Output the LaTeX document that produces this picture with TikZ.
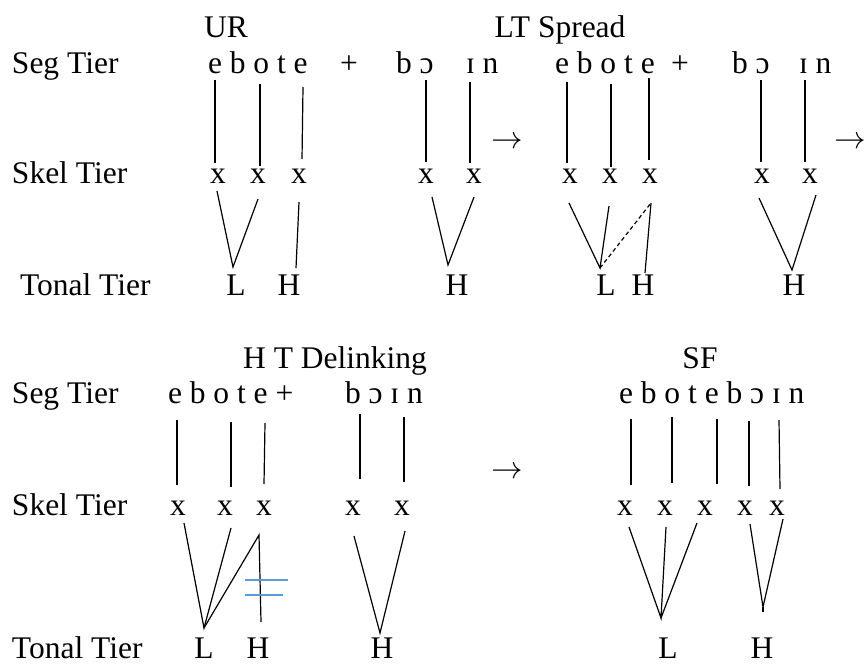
\RequirePackage{fix-cm}
\documentclass[tikz,border=0pt]{standalone}
\usepackage{fontspec}
\setmainfont{Liberation Serif}
\newfontfamily\tms{Liberation Serif}
\definecolor{delinkblue}{HTML}{5B9BD5}
\begin{document}
\begin{tikzpicture}[x=1pt,y=-1pt,
  every node/.style={inner sep=0pt, outer sep=0pt, font=\tms\fontsize{31.5}{38}\selectfont},
  lbl/.style={anchor=base west},
  ch/.style={anchor=base},
  link/.style={line width=1.2pt, black},
  spread/.style={link, dash pattern=on 4pt off 3pt},
  cut/.style={line width=1.3pt, delinkblue}]
\useasboundingbox (0,0) rectangle (867,664);

% ---------- tier labels ----------
\node[lbl] (seg1)  at (12,73)  {Seg Tier};
\node[lbl] (skel1) at (12,183) {Skel Tier};
\node[lbl] (ton1)  at (20,295) {Tonal Tier};
\node[lbl] (seg2)  at (12,403) {Seg Tier};
\node[lbl] (skel2) at (12,515) {Skel Tier};
\node[lbl] (ton2)  at (12,658) {Tonal Tier};

% ---------- stage titles ----------
\node[ch] (ur)  at (226,37)  {UR};
\node[ch] (lts) at (560,37)  {LT Spread};
\node[ch] (htd) at (335,368) {H T Delinking};
\node[ch] (sf)  at (700,368) {SF};

% ---------- arrows between stages ----------
\node[ch] (arrA) at (507,148) {$\rightarrow$};
\node[ch] (arrB) at (850,148) {$\rightarrow$};
\node[ch] (arrC) at (507,478) {$\rightarrow$};

% ---------- UR ----------
\node[lbl] (aw1) at (208,73) {e b o t e};
\node[ch]  (apl) at (349,73) {+};
\node[lbl] (aw2) at (396,73) {b ɔ};
\node[lbl] (aw3) at (466,73) {ɪ n};
\node[ch] (ax1) at (218,183) {x};
\node[ch] (ax2) at (258,183) {x};
\node[ch] (ax3) at (299,183) {x};
\node[ch] (ax4) at (426,183) {x};
\node[ch] (ax5) at (474,183) {x};
\node[ch] (aL)  at (236,295) {L};
\node[ch] (aH1) at (289,295) {H};
\node[ch] (aH2) at (457,295) {H};

\coordinate (as1) at (215,80);  \coordinate (ak1) at (215,163);
\coordinate (as2) at (260,84);  \coordinate (ak2) at (260,166);
\coordinate (as3) at (303,87);  \coordinate (ak3) at (302,159);
\coordinate (as4) at (426,80);  \coordinate (ak4) at (426,162);
\coordinate (as5) at (470,82);  \coordinate (ak5) at (470,163);
\coordinate (ab1) at (217,191); \coordinate (ab2) at (258,199);
\coordinate (ab3) at (299,202); \coordinate (ab4) at (432,197);
\coordinate (ab5) at (474,197);
\coordinate (atL) at (233,267); \coordinate (atH1) at (296,268);
\coordinate (atH2) at (448,265);
\foreach \i in {1,...,5} \draw[link] (as\i) -- (ak\i);
\draw[link] (ab1) -- (atL) -- (ab2);
\draw[link] (ab3) -- (atH1);
\draw[link] (ab4) -- (atH2) -- (ab5);

% ---------- LT Spread ----------
\node[lbl] (bw1) at (555,73) {e b o t e};
\node[ch]  (bpl) at (680,73) {+};
\node[lbl] (bw2) at (732,73) {b ɔ};
\node[lbl] (bw3) at (799,73) {ɪ n};
\node[ch] (bx1) at (570,183) {x};
\node[ch] (bx2) at (610,183) {x};
\node[ch] (bx3) at (650,183) {x};
\node[ch] (bx4) at (762,183) {x};
\node[ch] (bx5) at (810,183) {x};
\node[ch] (bL)  at (606,295) {L};
\node[ch] (bH1) at (643,295) {H};
\node[ch] (bH2) at (794,295) {H};

\coordinate (bs1) at (567,82);  \coordinate (bk1) at (567,163);
\coordinate (bs2) at (611,84);  \coordinate (bk2) at (611,167);
\coordinate (bs3) at (649,78);  \coordinate (bk3) at (649,160);
\coordinate (bs4) at (761,80);  \coordinate (bk4) at (761,162);
\coordinate (bs5) at (805,80);  \coordinate (bk5) at (805,162);
\coordinate (bb1) at (569,203); \coordinate (bb2) at (609,206);
\coordinate (bb3) at (651,203); \coordinate (bb4) at (759,198);
\coordinate (bb5) at (816,195);
\coordinate (btL) at (600,268); \coordinate (btH1) at (645,273);
\coordinate (btH2) at (792,270);
\foreach \i in {1,...,5} \draw[link] (bs\i) -- (bk\i);
\draw[link] (bb1) -- (btL) -- (bb2);
\draw[spread] (btL) -- (bb3);
\draw[link] (bb3) -- (btH1);
\draw[link] (bb4) -- (btH2) -- (bb5);

% ---------- H T Delinking ----------
\node[lbl] (cw1) at (168,403) {e b o t e +};
\node[lbl] (cw2) at (345,403) {b ɔ ɪ n};
\node[ch] (cx1) at (178,515) {x};
\node[ch] (cx2) at (225,515) {x};
\node[ch] (cx3) at (264,515) {x};
\node[ch] (cx4) at (353,515) {x};
\node[ch] (cx5) at (402,515) {x};
\node[ch] (cL)  at (204,658) {L};
\node[ch] (cH1) at (258,658) {H};
\node[ch] (cH2) at (382,658) {H};

\coordinate (cs1) at (177,420); \coordinate (ck1) at (177,485);
\coordinate (cs2) at (231,422); \coordinate (ck2) at (231,487);
\coordinate (cs3) at (265,423); \coordinate (ck3) at (264,484);
\coordinate (cs4) at (360,414); \coordinate (ck4) at (360,479);
\coordinate (cs5) at (404,417); \coordinate (ck5) at (404,482);
\coordinate (cb1) at (184,523); \coordinate (cb2) at (231,528);
\coordinate (cb3) at (259,535); \coordinate (cb4) at (354,536);
\coordinate (cb5) at (405,531);
\coordinate (ctL) at (204,628); \coordinate (ctH1) at (261,622);
\coordinate (ctH2) at (380,633);
\foreach \i in {1,...,5} \draw[link] (cs\i) -- (ck\i);
\draw[link] (cb1) -- (ctL) -- (cb2);
\draw[link] (ctL) -- (cb3) -- (ctH1);
\draw[link] (cb4) -- (ctH2) -- (cb5);
% delinking mark across the H association line
\coordinate (cc1) at (245,580); \coordinate (cc2) at (288,580);
\coordinate (cc3) at (245,595); \coordinate (cc4) at (283,595);
\draw[cut] (cc1) -- (cc2);
\draw[cut] (cc3) -- (cc4);

% ---------- SF ----------
\node[lbl] (dw1) at (619,403) {e b o t e b ɔ ɪ n};
\node[ch] (dx1) at (625,515) {x};
\node[ch] (dx2) at (665,515) {x};
\node[ch] (dx3) at (705,515) {x};
\node[ch] (dx4) at (745,515) {x};
\node[ch] (dx5) at (777,515) {x};
\node[ch] (dL)  at (668,658) {L};
\node[ch] (dH)  at (762,658) {H};

\coordinate (ds1) at (631,419); \coordinate (dk1) at (631,485);
\coordinate (ds2) at (672,417); \coordinate (dk2) at (672,483);
\coordinate (ds3) at (717,419); \coordinate (dk3) at (717,484);
\coordinate (ds4) at (749,421); \coordinate (dk4) at (749,486);
\coordinate (ds5) at (779,420); \coordinate (dk5) at (780,489);
\coordinate (db1) at (629,527); \coordinate (db2) at (666,527);
\coordinate (db3) at (697,523); \coordinate (db4) at (750,524);
\coordinate (db5) at (783,519);
\coordinate (dtL) at (661,618); \coordinate (dtH) at (763,607);
\coordinate (dtHs) at (763,612);
\foreach \i in {1,...,5} \draw[link] (ds\i) -- (dk\i);
\draw[link] (db1) -- (dtL) -- (db2);
\draw[link] (dtL) -- (db3);
\draw[link] (db4) -- (dtH) -- (db5);
\draw[link] (dtH) -- (dtHs);
\end{tikzpicture}
\end{document}
